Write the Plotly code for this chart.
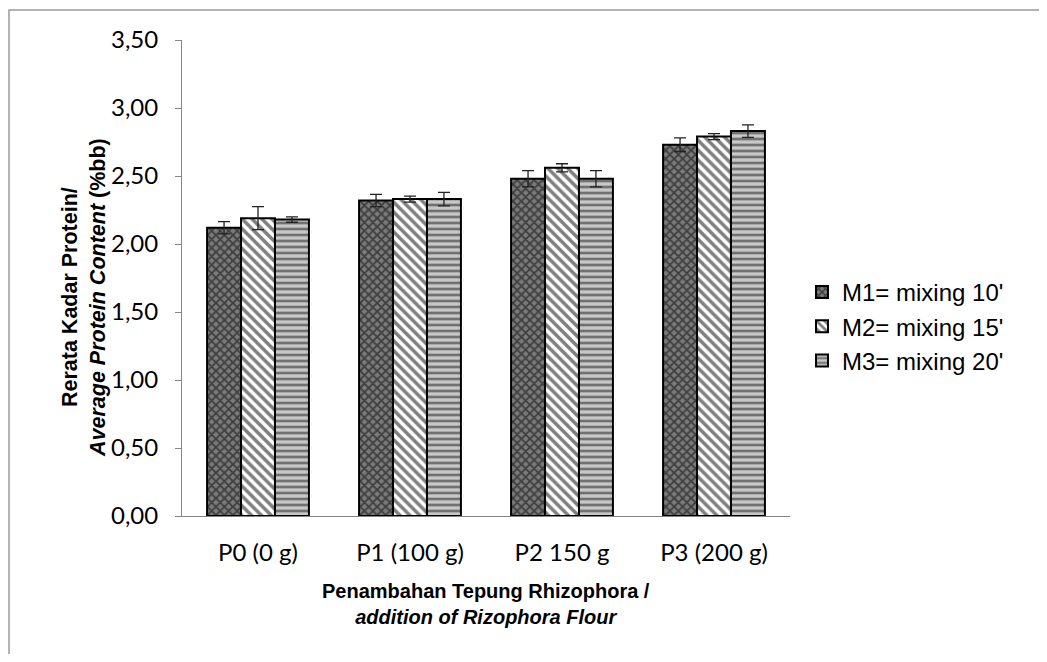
import plotly.graph_objects as go

categories = ["P0 (0 g)", "P1 (100 g)", "P2 150 g", "P3 (200 g)"]
series_names = ["M1= mixing 10'", "M2= mixing 15'", "M3= mixing 20'"]
m1_values = [2.12, 2.32, 2.48, 2.73]
m2_values = [2.19, 2.33, 2.56, 2.79]
m3_values = [2.18, 2.33, 2.48, 2.83]
m1_err = [0.045, 0.045, 0.06, 0.05]
m2_err = [0.085, 0.022, 0.03, 0.022]
m3_err = [0.02, 0.05, 0.06, 0.046]
y_ticks = [0, 0.5, 1.0, 1.5, 2.0, 2.5, 3.0, 3.5]

patterns = [
    dict(shape="x", fgcolor="#000000", bgcolor="#7a7a7a", size=6, solidity=0.5),
    dict(shape="\\", fgcolor="#000000", bgcolor="#ffffff", size=7, solidity=0.5),
    dict(shape="-", fgcolor="#1a1a1a", bgcolor="#c8c8c8", size=6, solidity=0.45),
]

fig = go.Figure()
for name, vals, errs, pat in zip(series_names, [m1_values, m2_values, m3_values],
                                 [m1_err, m2_err, m3_err], patterns):
    fig.add_trace(go.Bar(
        x=categories, y=vals, name=name,
        marker=dict(pattern=pat, color=pat["bgcolor"], line=dict(color="black", width=2)),
        error_y=dict(type="data", array=errs, visible=True, color="#222222", thickness=1.3, width=6),
    ))

OFF = 8  # page body margin
W, H = 1047 - 2 * OFF, 662 - 2 * OFF
L, T = 182 - OFF, 40 - OFF
R = W - (790 - OFF)
B = H - (516 - OFF)
pw, ph = W - L - R, H - T - B

def px(x):
    return (x - OFF - L) / pw

def py(y):
    return (H - B - (y - OFF)) / ph

fig.update_layout(
    width=W, height=H,
    margin=dict(l=L, r=R, t=T, b=B),
    paper_bgcolor="white", plot_bgcolor="white",
    barmode="group", bargap=0.33, bargroupgap=0,
    separators=",.",
    showlegend=True,
    legend=dict(x=px(802), y=py(270), xanchor="left", yanchor="top",
                font=dict(family="Liberation Sans, Arial", size=24, color="black"),
                bgcolor="rgba(0,0,0,0)", tracegroupgap=0, itemwidth=30),
    xaxis=dict(showline=True, linecolor="#868686", linewidth=1, ticks="",
               tickfont=dict(family="Lato, Open Sans", size=24, color="black"),
               ticklabelstandoff=15,
               showgrid=False, zeroline=False),
    yaxis=dict(range=[0, 3.5], tickvals=y_ticks, tickformat=".2f",
               showline=True, linecolor="#868686", linewidth=1,
               ticks="outside", ticklen=6, tickcolor="#868686",
               tickfont=dict(family="Lato, Open Sans", size=24, color="black"),
               ticklabelstandoff=12,
               showgrid=False, zeroline=False),
    annotations=[
        dict(xref="paper", yref="paper", x=px(84), y=py(298), textangle=-90,
             xanchor="center", yanchor="middle",
             text="<b>Rerata Kadar Protein/</b><br><b><i>Average Protein Content</i> (%bb)</b>",
             showarrow=False, font=dict(family="Liberation Sans, Arial", size=21.5, color="black"),
             align="center"),
        dict(xref="paper", yref="paper", x=px(486), y=py(604),
             xanchor="center", yanchor="middle",
             text="<b>Penambahan Tepung Rhizophora /</b><br><b><i>addition of Rizophora Flour</i></b>",
             showarrow=False, font=dict(family="Liberation Sans, Arial", size=20, color="black"),
             align="center"),
    ],
    shapes=[
        dict(type="rect", xref="paper", yref="paper", x0=px(OFF + 1), y0=py(720), x1=px(1120), y1=py(10),
             line=dict(color="#9a9a9a", width=1.5), fillcolor="rgba(0,0,0,0)", layer="below"),
    ],
)

fig.write_html("out.html", config={"displayModeBar": False})
